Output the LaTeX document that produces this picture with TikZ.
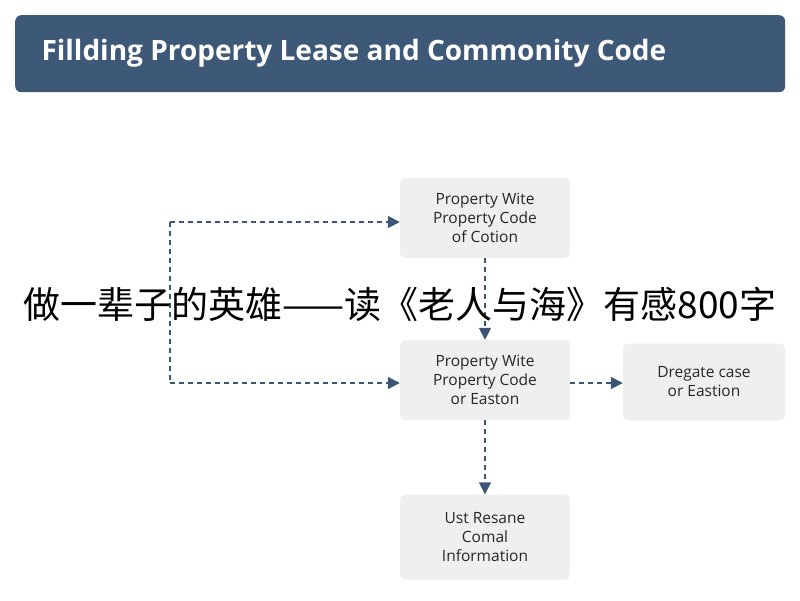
\documentclass[tikz,border=0pt]{standalone}
\usepackage{fontspec}
\setmainfont{Open Sans}
\newfontfamily\cjk{Noto Sans CJK SC}
\usetikzlibrary{arrows.meta}
\definecolor{banner}{HTML}{3E5878}
\definecolor{linec}{HTML}{3A5575}
\definecolor{boxc}{HTML}{EFEFEF}
\begin{document}
\begin{tikzpicture}[x=1pt,y=-1pt,
  box/.style={fill=boxc,rounded corners=5pt,minimum width=170pt,minimum height=80pt,align=center,font=\fontsize{15.5}{19}\selectfont,text=black!85},
  con/.style={draw=linec,line width=1.6pt,dash pattern=on 5pt off 4pt,-{Triangle[length=12pt,width=12pt]}}]
\useasboundingbox[fill=white] (0,0) rectangle (800,600);
\node[fill=banner,rounded corners=6pt,minimum width=770pt,minimum height=77pt,anchor=north west] (title) at (15,15) {};
\node[anchor=west,text=white,font=\fontsize{28}{32}\selectfont\bfseries] (tt) at (38,53) {Fillding Property Lease and Commonity Code};
\node[box] (a) at (485,218) {Property Wite\\Property Code\\of Cotion};
\node[box] (b) at (485,380) {Property Wite\\Property Code\\or Easton};
\node[box,minimum width=162pt,minimum height=77pt] (c) at (704,382) {Dregate case\\or Eastion};
\node[box,minimum height=85pt] (d) at (485,537) {Ust Resane\\Comal\\Information};
\coordinate (p1) at (170,222);
\coordinate (p2) at (170,383);
\draw[con] (p1) -- (a.west |- p1);
\draw[draw=linec,line width=1.6pt,dash pattern=on 5pt off 4pt] (p1) -- (p2);
\draw[con] (p2) -- (b.west |- p2);
\draw[con] (a) -- (b);
\draw[con] (b.east |- 0,383) -- (c.west |- 0,383);
\draw[con] (b) -- (d);
\node[font=\cjk\fontsize{37}{40}\selectfont] (ov) at (400,304) {做一辈子的英雄——读《老人与海》有感800字};
\end{tikzpicture}
\end{document}
